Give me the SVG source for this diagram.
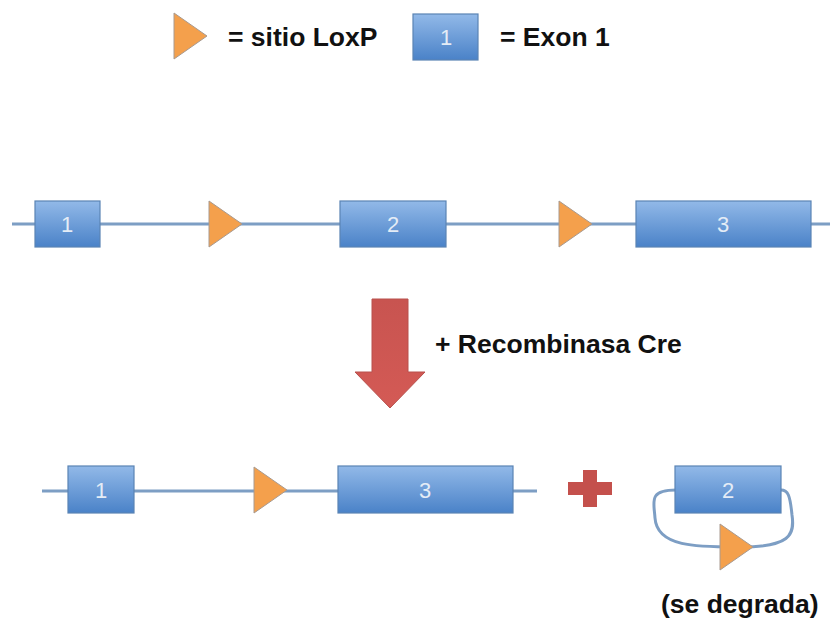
<svg xmlns="http://www.w3.org/2000/svg" width="830" height="625" viewBox="0 0 830 625">
<defs>
<linearGradient id="exg" x1="0" y1="0" x2="0" y2="1">
<stop offset="0" stop-color="#92b9e8"/>
<stop offset="1" stop-color="#4a82c8"/>
</linearGradient>
<linearGradient id="redg" x1="0" y1="0" x2="0" y2="1">
<stop offset="0" stop-color="#c85450"/>
<stop offset="1" stop-color="#d45a55"/>
</linearGradient>
<polygon id="lox" points="0,0 33,23 0,46"/>
</defs>
<style>
.ex{fill:url(#exg);stroke:#5a84b4;stroke-width:1.2}
.lox{fill:#f4a04c;stroke:#a89a90;stroke-width:1}
.dna{stroke:#7d9ec4;stroke-width:3;fill:none}
.num{font-family:"Liberation Sans",Arial,sans-serif;font-size:22px;fill:#e4ecf6;text-anchor:middle}
.lbl{font-family:"Liberation Sans",Arial,sans-serif;font-size:26.5px;font-weight:bold;fill:#111}
</style>
<rect width="830" height="625" fill="#ffffff"/>

<g id="legend">
<use href="#lox" class="lox" x="174" y="13"/>
<text class="lbl" x="228" y="46">= sitio LoxP</text>
<rect class="ex" x="413" y="14" width="65" height="46"/>
<text class="num" x="446" y="45">1</text>
<text class="lbl" x="500" y="46">= Exon 1</text>
</g>

<g id="connectors">
<line class="dna" x1="12" y1="224" x2="830" y2="224"/>
<line class="dna" x1="42" y1="491" x2="537" y2="491"/>
<path class="dna" d="M676,490 C648,490 654,502 655,518 C657,548 700,547 740,547 C790,547 795,535 792,515 C790,495 788,490 781,490"/>
</g>

<g id="row1">
<g id="r1-exon1"><rect class="ex" x="35" y="201" width="65" height="46"/><text class="num" x="67" y="232">1</text></g>
<g id="r1-lox1"><use href="#lox" class="lox" x="209" y="201"/></g>
<g id="r1-exon2"><rect class="ex" x="340" y="201" width="106" height="46"/><text class="num" x="393" y="232">2</text></g>
<g id="r1-lox2"><use href="#lox" class="lox" x="559" y="201"/></g>
<g id="r1-exon3"><rect class="ex" x="636" y="201" width="175" height="46"/><text class="num" x="723" y="232">3</text></g>
</g>

<g id="arrow">
<polygon points="372,299 408,299 408,372 425,372 390,408 355,372 372,372" fill="url(#redg)" stroke="#b8504c" stroke-width="1"/>
<text class="lbl" x="435" y="353">+ Recombinasa Cre</text>
</g>

<g id="row2">
<g id="r2-exon1"><rect class="ex" x="68" y="466" width="66" height="47"/><text class="num" x="101" y="498">1</text></g>
<g id="r2-lox"><use href="#lox" class="lox" x="254" y="467"/></g>
<g id="r2-exon3"><rect class="ex" x="338" y="466" width="175" height="47"/><text class="num" x="425" y="498">3</text></g>
</g>

<g id="plus">
<path d="M583,470 H597 V482 H612 V495 H597 V507 H583 V495 H568 V482 H583 Z" fill="#c4504c"/>
</g>

<g id="circle">
<g id="c-exon2"><rect class="ex" x="675" y="466" width="106" height="47"/><text class="num" x="728" y="498">2</text></g>
<g id="c-lox"><use href="#lox" class="lox" x="720" y="524"/></g>
<text class="lbl" x="661" y="613">(se degrada)</text>
</g>
</svg>
